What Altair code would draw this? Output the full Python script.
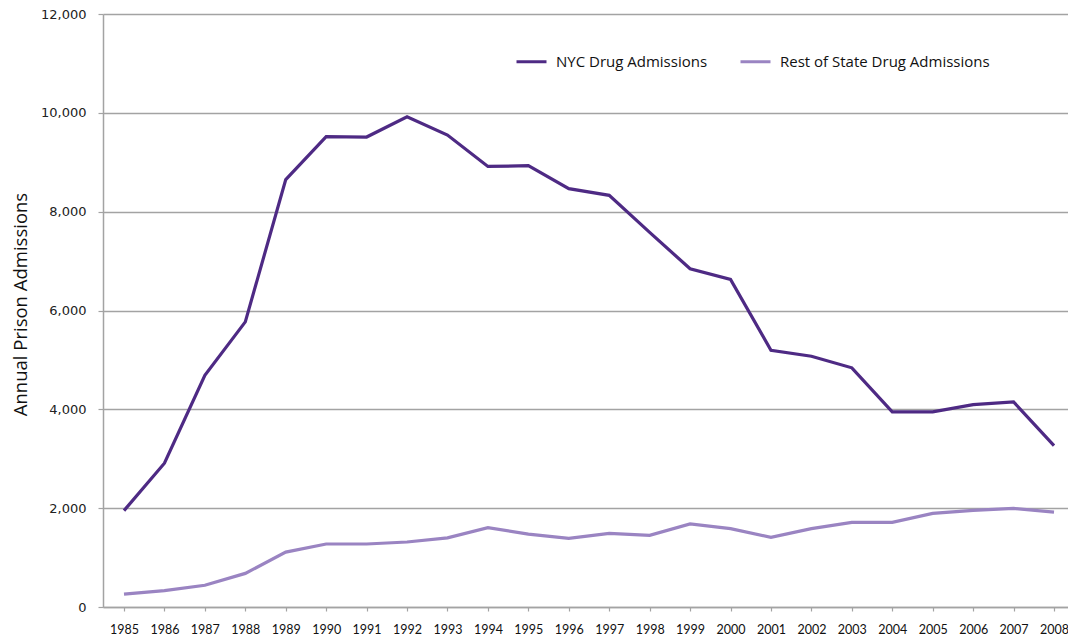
import altair as alt
import pandas as pd

years = list(range(1985, 2009))
nyc = [1950, 2910, 4690, 5770, 8650, 9520, 9510, 9920, 9550, 8915, 8930, 8465,
       8330, 7580, 6845, 6630, 5195, 5075, 4840, 3950, 3950, 4095, 4150, 3265]
rest = [260, 330, 440, 680, 1110, 1275, 1275, 1315, 1400, 1605, 1475, 1390,
        1490, 1450, 1680, 1585, 1410, 1585, 1712, 1712, 1893, 1954, 1994, 1920]
series_names = ["NYC Drug Admissions", "Rest of State Drug Admissions"]
series_colors = ["#4E2A84", "#9A84C2"]

rows = []
for y, a, b in zip(years, nyc, rest):
    rows.append({"year": y, "value": a, "series": series_names[0]})
    rows.append({"year": y, "value": b, "series": series_names[1]})
df = pd.DataFrame(rows)

grid_color = "#A3A3A3"

chart = alt.Chart(df).mark_line(strokeWidth=3.2, strokeJoin="miter").encode(
    x=alt.X("year:Q",
            scale=alt.Scale(domain=[1984.4807, 2008.346], nice=False, zero=False),
            axis=alt.Axis(values=years, format="d", title=None, grid=False,
                          domainColor=grid_color, domainWidth=1.5,
                          tickColor=grid_color, tickSize=4, tickWidth=1.2,
                          labelFont="Lato", labelFontSize=12.5, labelColor="#111111",
                          labelPadding=12, labelFlush=False, labelOverlap=False)),
    y=alt.Y("value:Q",
            scale=alt.Scale(domain=[0, 12000], nice=False),
            axis=alt.Axis(values=[0, 2000, 4000, 6000, 8000, 10000, 12000], format=",d",
                          title="Annual Prison Admissions",
                          titleFont="Open Sans", titleFontSize=18.5, titleFontWeight="normal",
                          titleColor="#111111", titleAngle=270, titleAlign="center",
                          titleBaseline="middle", titleX=-83, titleY=290,
                          grid=True, gridColor=grid_color, gridWidth=1.5,
                          domainColor=grid_color, domainWidth=1.5,
                          tickColor=grid_color, tickSize=5, tickWidth=1.2,
                          labelFont="DejaVu Sans", labelFontSize=13, labelColor="#222222",
                          labelPadding=12)),
    color=alt.Color("series:N",
                    scale=alt.Scale(domain=series_names, range=series_colors),
                    legend=alt.Legend(title=None, orient="none", legendX=412, legendY=31,
                                      direction="horizontal", symbolType="stroke",
                                      symbolSize=900, symbolStrokeWidth=3,
                                      labelFont="Open Sans", labelFontSize=15,
                                      labelColor="#111111", labelOffset=8,
                                      labelLimit=400, columnPadding=26)),
).properties(
    width=965, height=593,
    autosize=alt.AutoSizeParams(type="none"),
    padding={"left": 95, "top": 6, "right": 0, "bottom": 30},
).configure_view(stroke=None)

chart.save("out.html", embed_options={"renderer": "svg", "actions": False})
